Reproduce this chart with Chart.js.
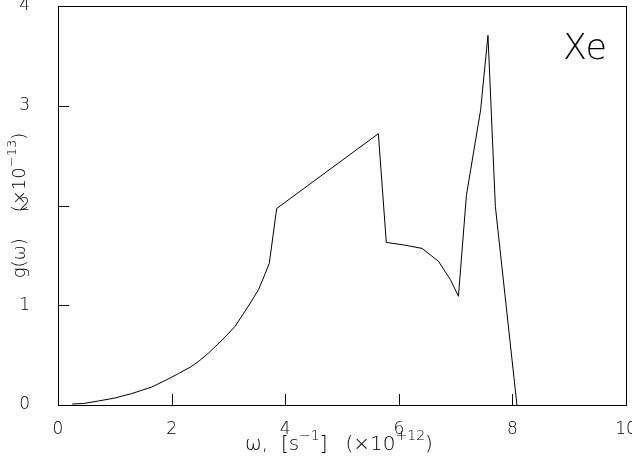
<!DOCTYPE html>
<html>
<head>
<meta charset="utf-8">
<script src="https://cdn.jsdelivr.net/npm/chart.js@4"></script>
<style>
  html, body { margin: 0; padding: 0; background: #fff; }
  canvas { display: block; }
</style>
</head>
<body>
<canvas id="chart" width="632" height="460"></canvas>
<script>
// phonon density of states for Xe
const omega = [0.25, 0.45, 0.71, 1.00, 1.30, 1.65, 1.92, 2.12, 2.33, 2.47, 2.65, 2.94, 3.12, 3.35, 3.53, 3.65, 3.72, 3.85,
  5.64, 5.78, 6.08, 6.41, 6.70, 6.91, 7.05, 7.19, 7.44, 7.57, 7.70, 8.08];
const gOmega = [0.01, 0.015, 0.04, 0.07, 0.115, 0.18, 0.255, 0.315, 0.38, 0.435, 0.52, 0.68, 0.79, 0.99, 1.155, 1.32, 1.42, 1.97,
  2.72, 1.63, 1.605, 1.57, 1.44, 1.255, 1.09, 2.10, 2.955, 3.705, 1.99, 0];
const xTicks = [0, 2, 4, 6, 8, 10];
const yTicks = [0, 1, 2, 3, 4];
const element = 'Xe';

const FONT = '"DejaVu Sans"';

// title pieces, sup = superscript, gap = extra space in px
const xTitle = [{ t: 'ω,  [s' }, { t: '−1', sup: true }, { t: ']' }, { gap: 18 }, { t: '(×10' }, { t: '+12', sup: true }, { t: ')' }];
const yTitle = [{ t: 'g(ω)' }, { gap: 26 }, { t: '(×10' }, { t: '−13', sup: true }, { t: ')' }];

function drawRich(ctx, parts, cx, baseY, size) {
  const big = `200 ${size}px ${FONT}`;
  const small = `200 ${Math.round(size * 0.72)}px ${FONT}`;
  let total = 0;
  parts.forEach(p => {
    if (p.gap) { total += p.gap; return; }
    ctx.font = p.sup ? small : big;
    p.w = ctx.measureText(p.t).width;
    total += p.w;
  });
  let x = cx - total / 2;
  ctx.textAlign = 'left';
  ctx.textBaseline = 'alphabetic';
  parts.forEach(p => {
    if (p.gap) { x += p.gap; return; }
    ctx.font = p.sup ? small : big;
    ctx.fillText(p.t, x, p.sup ? baseY - size * 0.48 : baseY);
    x += p.w;
  });
}

const framePlugin = {
  id: 'frame',
  afterDraw(chart) {
    const { ctx, chartArea: a, scales } = chart;
    ctx.save();
    ctx.strokeStyle = '#000';
    ctx.fillStyle = '#000';
    ctx.lineWidth = 1;
    ctx.strokeRect(Math.round(a.left) + 0.5, Math.round(a.top) + 0.5, Math.round(a.right - a.left), Math.round(a.bottom - a.top));

    // inward tick marks
    ctx.beginPath();
    scales.x.ticks.forEach(t => {
      if (t.value <= scales.x.min || t.value >= scales.x.max) return;
      const px = Math.round(scales.x.getPixelForValue(t.value)) + 0.5;
      ctx.moveTo(px, a.bottom);
      ctx.lineTo(px, a.bottom - 11);
    });
    scales.y.ticks.forEach(t => {
      if (t.value <= scales.y.min || t.value >= scales.y.max) return;
      const py = Math.round(scales.y.getPixelForValue(t.value)) + 0.5;
      ctx.moveTo(a.left, py);
      ctx.lineTo(a.left + 11, py);
    });
    ctx.stroke();

    // axis titles
    drawRich(ctx, xTitle, (a.left + a.right) / 2 - 3, 450, 20);
    ctx.translate(25, (a.top + a.bottom) / 2);
    ctx.rotate(-Math.PI / 2);
    drawRich(ctx, yTitle, 0, 0, 18);
    ctx.setTransform(1, 0, 0, 1, 0, 0);

    ctx.font = `200 35px ${FONT}`;
    ctx.textAlign = 'right';
    ctx.textBaseline = 'alphabetic';
    ctx.fillText(element, 607, 59);
    ctx.restore();
  }
};

const tickFont = { family: FONT, size: 17, weight: '200' };

new Chart(document.getElementById('chart'), {
  type: 'line',
  data: {
    datasets: [{
      data: omega.map((x, i) => ({ x, y: gOmega[i] })),
      borderColor: '#000',
      borderWidth: 1,
      pointRadius: 0,
      tension: 0,
      fill: false
    }]
  },
  options: {
    responsive: false,
    animation: false,
    devicePixelRatio: 1,
    layout: { padding: { top: 6, right: 6, left: 0, bottom: 0 } },
    plugins: { legend: { display: false }, tooltip: { enabled: false } },
    scales: {
      x: {
        type: 'linear',
        min: xTicks[0],
        max: xTicks[xTicks.length - 1],
        grid: { display: false },
        border: { display: false },
        afterBuildTicks: s => { s.ticks = xTicks.map(v => ({ value: v })); },
        ticks: { color: '#000', font: tickFont, padding: 6, maxRotation: 0 },
        afterFit: s => { s.height = 55; s.paddingLeft = s.paddingRight = 0; }
      },
      y: {
        type: 'linear',
        min: yTicks[0],
        max: yTicks[yTicks.length - 1],
        grid: { display: false },
        border: { display: false },
        afterBuildTicks: s => { s.ticks = yTicks.map(v => ({ value: v })); },
        ticks: { color: '#000', font: tickFont, padding: 20 },
        afterFit: s => { s.width = 58; s.paddingTop = s.paddingBottom = 0; }
      }
    }
  },
  plugins: [framePlugin]
});
</script>
</body>
</html>
